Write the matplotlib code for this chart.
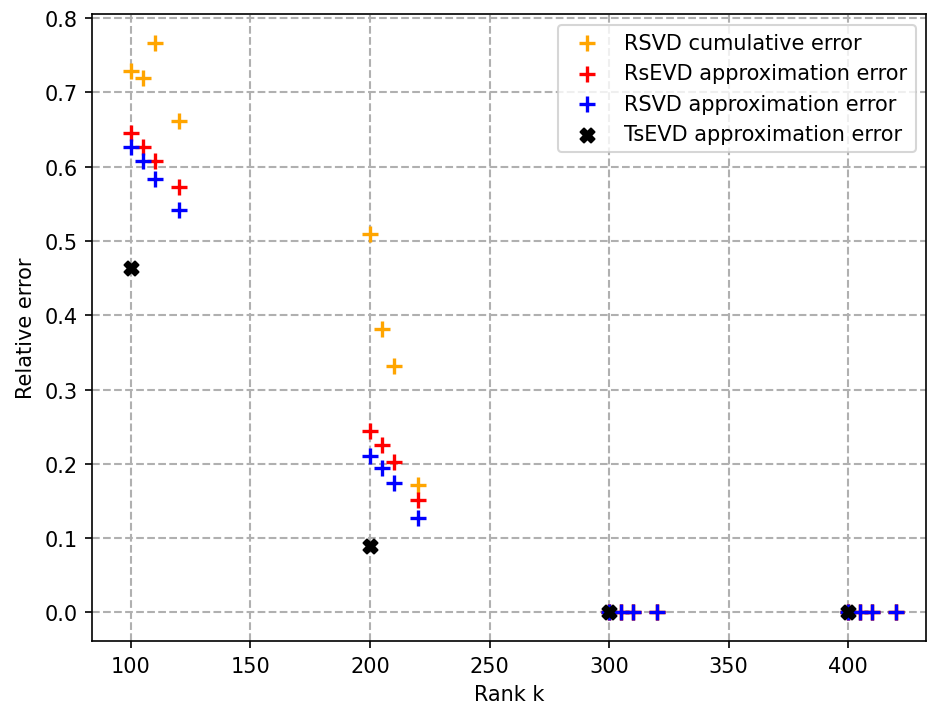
import matplotlib.pyplot as plt

ranks = [100, 105, 110, 120, 200, 205, 210, 220, 300, 305, 310, 320, 400, 405, 410, 420]
rsvd_cumulative = [0.729, 0.720, 0.767, 0.661, 0.509, 0.382, 0.332, 0.172, 0, 0, 0, 0, 0, 0, 0, 0]
rsevd_error = [0.646, 0.626, 0.607, 0.573, 0.244, 0.226, 0.203, 0.151, 0, 0, 0, 0, 0, 0, 0, 0]
rsvd_error = [0.626, 0.607, 0.584, 0.542, 0.210, 0.194, 0.174, 0.127, 0, 0, 0, 0, 0, 0, 0, 0]
tsevd_ranks = [100, 200, 300, 400]
tsevd_error = [0.463, 0.089, 0, 0]

fig = plt.figure(figsize=(6.18, 4.733), dpi=150)
ax = fig.add_axes([0.0992, 0.0958, 0.9, 0.883])

ax.scatter(ranks, rsvd_cumulative, marker='+', s=55, linewidths=1.6, color='orange', label='RSVD cumulative error')
ax.scatter(ranks, rsevd_error, marker='+', s=55, linewidths=1.6, color='red', label='RsEVD approximation error')
ax.scatter(ranks, rsvd_error, marker='+', s=55, linewidths=1.6, color='blue', label='RSVD approximation error')
ax.scatter(tsevd_ranks, tsevd_error, marker='X', s=45, color='black', label='TsEVD approximation error')

ax.set_xlim(83.7, 432.6)
ax.set_xlabel('Rank k')
ax.set_ylabel('Relative error')
ax.grid(True, linestyle='--', color='#b0b0b0', linewidth=1)
ax.set_axisbelow(True)
ax.legend(loc='upper right')

fig.savefig('out.png', dpi=150)
